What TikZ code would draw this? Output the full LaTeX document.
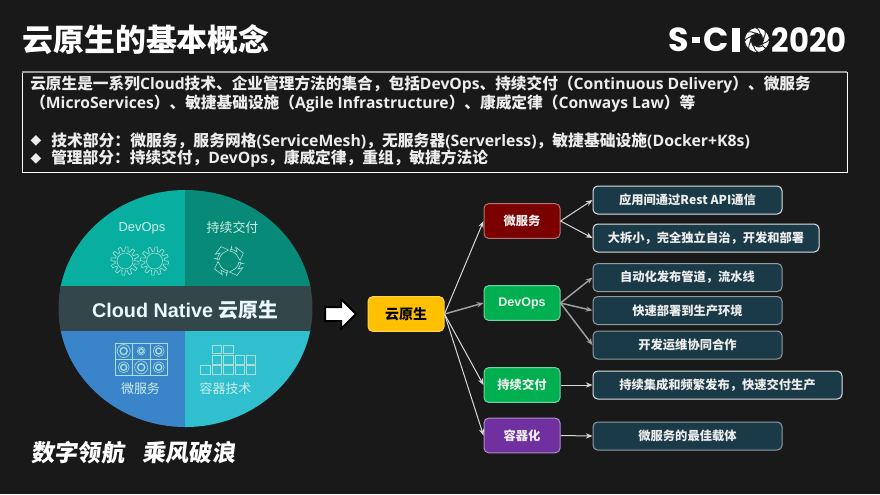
\documentclass[tikz,border=0pt]{standalone}
\usepackage{fontspec}
\usetikzlibrary{arrows.meta}
\setmainfont{Open Sans}
\newfontfamily\zhf{Noto Sans CJK SC}
\newfontfamily\arl{Liberation Sans}
\newfontfamily\pop{Poppins}
\newfontfamily\djv{DejaVu Sans}
\newcommand{\z}[1]{{\zhf #1}}
\newcommand{\px}[1]{\fontsize{#1}{#1}\selectfont}
\definecolor{bgc}{HTML}{191919}
\definecolor{linec}{HTML}{D8D8D8}
\definecolor{boxc}{HTML}{1B3A47}
\definecolor{txtc}{HTML}{ECECEC}
\definecolor{iconc}{HTML}{A9DDD6}
\definecolor{ctxt}{HTML}{CDEDE8}
\definecolor{tealA}{HTML}{08AFA0}
\definecolor{tealB}{HTML}{078A78}
\definecolor{blueC}{HTML}{3A85C9}
\definecolor{cyanD}{HTML}{2FBFCE}
\definecolor{bandc}{HTML}{33474B}
\definecolor{yel}{HTML}{FFC000}
\definecolor{redd}{HTML}{7B0000}
\definecolor{grn}{HTML}{00B050}
\definecolor{pur}{HTML}{7030A0}
\definecolor{edgeB}{HTML}{8E9DA3}
\tikzset{
  cnbox/.style={draw=#1,line width=.75pt,rounded corners=3.5pt,inner sep=0pt,font=\bfseries\zhf\px{9.2pt},text=txtc,anchor=center},
  midbox/.style={cnbox=#1!55!white,fill=#1,minimum width=57pt,minimum height=26pt},
  leafbox/.style={cnbox=#1,fill=boxc,minimum height=21pt},
  link/.style={draw=linec,line width=.75pt,-{Stealth[length=5pt,width=4pt]}},
  glink/.style={draw=gray!75!white,line width=1.1pt,-{Stealth[length=5pt,width=4pt]}},
  tline/.style={anchor=west,inner sep=0pt,text=txtc,font=\bfseries\px{#1}},
  tline/.default=11.76pt,
  circtxt/.style={inner sep=0pt,text=ctxt,font=\arl\px{9.7pt}},
  iconln/.style={draw=iconc,line width=.45pt},
  logotxt/.style={inner sep=0pt,text=white,font=\bfseries\pop\px{25pt}},
  slogan/.style={inner sep=0pt,text=white,font=\bfseries\zhf\px{17.5pt},anchor=west,transform shape},
}
\newcommand{\geargl}[2]{%
  \draw[iconln] plot[domain=0:360,samples=145,variable=\t,smooth] ({#1+(12+2.2*max(-1,min(1,2.5*sin(12*\t))))*cos(\t)},{#2+(12+2.2*max(-1,min(1,2.5*sin(12*\t))))*sin(\t)}) -- cycle;
  \draw[iconln] (#1,#2) circle[radius=8];}
\begin{document}
\begin{tikzpicture}[x=.75pt,y=-.75pt]
\fill[bgc] (0,0) rectangle (880,494);
\useasboundingbox (0,0) rectangle (880,494);

% title
\node[inner sep=0pt,anchor=west,text=white,font=\bfseries\zhf\px{23.2pt}] (title) at (22,40) {云原生的基本概念};

% logo
\node[logotxt] (logoS) at (679,40) {S};
\fill[white] (692,37) rectangle (700,43);
\node[logotxt] (logoC) at (716.5,40) {C};
\fill[white] (732,28) rectangle (740,52);
\foreach \a in {0,45,...,315}{
  \begin{scope}[shift={(757,40)},rotate=\a]
    \fill[white,draw=bgc,line width=.6pt] (12.5,0) arc[start angle=0,end angle=38,radius=12.5] .. controls (7,9) and (3,8) .. (1,5.5) .. controls (5,5.5) and (8,3) .. (8,0) -- cycle;
  \end{scope}
}
\node[logotxt] (logoY) at (809,40) {\scalebox{.92}[1]{2020}};

% description box
\draw[white,line width=.75pt] (22,72) rectangle (847,172);
\draw[gray!80!white,line width=1pt] (22,72) -- (847,72);
\node[tline] (l1) at (30,84.5) {\z{云原生是一系列}Cloud\z{技术、企业管理方法的集合，包括}DevOps\z{、持续交付（}Continuous Delivery\z{）、微服务}};
\node[tline] (l2) at (30,103.5) {\z{（}MicroServices\z{）、敏捷基础设施（}Agile Infrastructure\z{）、康威定律（}Conways Law\z{）等}};
\node[inner sep=0pt,text=txtc,font=\djv\px{10.5pt}] (d1) at (36,140.5) {◆};
\node[inner sep=0pt,text=txtc,font=\djv\px{10.5pt}] (d2) at (36,158.5) {◆};
\node[tline=11.85pt] (l3) at (51,140.5) {\z{技术部分：微服务，服务网格}(ServiceMesh)\z{，无服务器}(Serverless)\z{，敏捷基础设施}(Docker+K8s)};
\node[tline=11.78pt] (l4) at (51,158.5) {\z{管理部分：持续交付，}DevOps\z{，康威定律，重组，敏捷方法论}};

% disc
\begin{scope}
  \clip (185.5,308.5) ellipse [x radius=127,y radius=118.5];
  \fill[tealA] (50,180) rectangle (185,290);
  \fill[tealB] (185,180) rectangle (320,290);
  \fill[blueC] (50,330) rectangle (185,440);
  \fill[cyanD] (185,330) rectangle (320,440);
  \fill[bandc] (50,286) rectangle (320,331);
\end{scope}
\node[inner sep=0pt,text=white!92!cyan,font=\bfseries\arl\px{14.85pt}] (cn) at (185,310.5) {Cloud Native \z{云原生}};
\node[circtxt] (tDev) at (142,228) {DevOps};
\node[circtxt,font=\zhf\px{9.7pt}] (tCd) at (232.5,228) {持续交付};
\node[circtxt,font=\zhf\px{9.7pt}] (tMs) at (140.5,389) {微服务};
\node[circtxt,font=\zhf\px{9.7pt}] (tCt) at (225.5,389) {容器技术};

% gears
\geargl{125}{261}
\geargl{154.5}{261}

% cycle arrows
\foreach \a in {-20,70,160,250}{
  \begin{scope}[shift={(229,261)},rotate=\a,scale=.8]
    \draw[iconc,line width=.45pt,fill=tealB] (12,-3) arc[start angle=-14,end angle=48,radius=12.4] -- ++(-3,3.5) -- (15.5,13.5) -- (19,2) -- (14,5.5) arc[start angle=20,end angle=-10,radius=15] -- (17.5,-3) -- cycle;
  \end{scope}
}

% microservice grid
\draw[iconln] (115,343) rectangle (167.4,375.4);
\draw[iconln] (132.5,343) -- (132.5,375.4) (150,343) -- (150,375.4) (115,359.2) -- (167.4,359.2);
\foreach \cx/\cy/\r in {123.7/351/6.5,141.2/351/4,158.7/351/5.5,123.7/367.3/5.5,141.2/367.3/6.5,158.7/367.3/5.5}{
  \draw[iconln] (\cx,\cy) circle[radius=\r];
  \draw[draw=iconc,line width=1pt] (\cx,\cy) circle[radius=\r*.55];
}

% container bricks
\foreach \bx/\by in {200.5/365.7,212/365.7,223.6/365.7,235/365.7,245.8/365.7,212/355.7,223.6/355.7,235/355.7,245.8/355.7,212/345,223.6/345}{
  \draw[iconln] (\bx,\by) rectangle ++(9.5,8.6);
}

% big arrow
\draw[fill=white,draw=black,line width=1.5pt] (325,307) -- (341,307) -- (341,299) -- (356,314) -- (341,329) -- (341,321) -- (325,321) -- cycle;

% nodes
\node[cnbox=yel!70!white,fill=yel,minimum width=57pt,minimum height=26pt,text=black,font=\bfseries\zhf\px{10.5pt}] (root) at (406,314) {云原生};
\node[midbox=redd] (ms) at (522,221) {微服务};
\node[midbox=grn] (dv) at (522,303) {\bfseries\arl\px{9.4pt}DevOps};
\node[midbox=grn] (cd) at (522,385) {持续交付};
\node[midbox=pur] (ct) at (522,435.5) {容器化};

\node[leafbox=white!85!boxc,minimum width=141.75pt] (a1) at (687.5,200) {应用间通过Rest API通信};
\node[leafbox=white!85!boxc,minimum width=169.5pt] (a2) at (706,238) {大拆小，完全独立自治，开发和部署};
\node[leafbox=edgeB,minimum width=141.75pt] (b1) at (687.5,277.5) {自动化发布管道，流水线};
\node[leafbox=edgeB,minimum width=141.75pt] (b2) at (687.5,310.5) {快速部署到生产环境};
\node[leafbox=edgeB,minimum width=141.75pt] (b3) at (687.5,345) {开发运维协同合作};
\node[leafbox=white!85!boxc,minimum width=186.75pt] (c1) at (717.5,385) {持续集成和频繁发布，快速交付生产};
\node[leafbox=edgeB,minimum width=141.75pt] (e1) at (687.5,436) {微服务的最佳载体};

% connectors
\draw[link] (root.east) -- (ms.west);
\draw[glink] (root.east) -- (dv.west);
\draw[link] (root.east) -- (cd.west);
\draw[link] (root.east) -- (ct.west);
\draw[link] (ms.east) -- (a1.west);
\draw[link] (ms.east) -- (a2.west);
\draw[glink] (dv.east) -- (b1.west);
\draw[glink] (dv.east) -- (b2.west);
\draw[glink] (dv.east) -- (b3.west);
\draw[link] (cd.east) -- (c1.west);
\draw[link] (ct.east) -- (e1.west);

% slogan
\begin{scope}[shift={(32,453)},xslant=.12]
\node[slogan] (s1) at (0,0) {数字领航};
\node[slogan] (s2) at (111,0) {乘风破浪};
\end{scope}
\end{tikzpicture}
\end{document}
